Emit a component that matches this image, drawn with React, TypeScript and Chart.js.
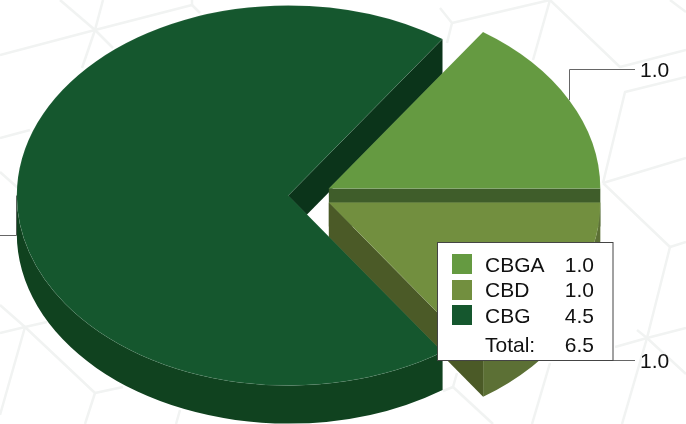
import React, { useEffect, useRef } from "react";
import { Chart, registerables } from "chart.js";

Chart.register(...registerables);

const categories = ["CBGA", "CBD", "CBG"];
const seriesValues = [1.0, 1.0, 4.5];
const topColors = ["#659a41", "#728f3f", "#15572e"];
const edgeWallColors = ["#3f5d2a", "#4b5a27", "#0b341a"];
const rimWallColors = ["#4f7a33", "#5c7035", "#10421f"];

const WIDTH = 686;
const HEIGHT = 424;
const SQUASH = 0.7;
const DEPTH = 38;
const EXPLODE = 21.5;
const FONT = '21px "Liberation Sans", Arial, sans-serif';
const TEXT = "#111111";
const LEADER = "#666666";

const backgroundPaths: number[][][] = [
  [[60, 0], [95, 30], [113, 48]],
  [[103, 0], [95, 30], [82, 68]],
  [[0, 55], [95, 30], [192, 5], [192, 0]],
  [[192, 5], [200, 13]],
  [[0, 138], [30, 130]],
  [[0, 172], [18, 188]],
  [[0, 305], [25, 327], [95, 393], [123, 387]],
  [[25, 327], [0, 333]],
  [[25, 327], [0, 415]],
  [[25, 327], [47, 322]],
  [[95, 393], [85, 424]],
  [[180, 410], [176, 424]],
  [[440, 8], [452, 23], [447, 43]],
  [[452, 23], [550, 0], [533, 60]],
  [[550, 0], [620, 67], [686, 50]],
  [[670, 0], [686, 12]],
  [[686, 77], [625, 92], [603, 183]],
  [[603, 183], [686, 158]],
  [[603, 183], [670, 247], [686, 242]],
  [[670, 247], [647, 338], [686, 374]],
  [[647, 338], [615, 347]],
  [[647, 338], [637, 330]],
  [[647, 338], [686, 328]],
  [[647, 338], [622, 424]],
  [[550, 363], [532, 424]],
  [[443, 391], [453, 387], [493, 424]],
  [[453, 387], [457, 373]],
];

const pie3d = {
  id: "pie3d",
  beforeDraw(chart: any) {
    const ctx = chart.ctx;
    ctx.save();
    ctx.fillStyle = "#ffffff";
    ctx.fillRect(0, 0, WIDTH, HEIGHT);
    ctx.strokeStyle = "#f1f3f2";
    ctx.lineWidth = 2.5;
    ctx.lineJoin = "round";
    for (const path of backgroundPaths) {
      ctx.beginPath();
      path.forEach(([x, y], i) => (i ? ctx.lineTo(x, y) : ctx.moveTo(x, y)));
      ctx.stroke();
    }
    ctx.restore();
  },
  beforeDatasetDraw(chart: any) {
    const ctx = chart.ctx;
    const arcs: any[] = chart.getDatasetMeta(0).data;

    const centre = (a: any) => {
      const mid = (a.startAngle + a.endAngle) / 2;
      return {
        mid,
        x: a.x + Math.cos(mid) * EXPLODE,
        y: a.y + Math.sin(mid) * EXPLODE * SQUASH,
        r: a.outerRadius,
      };
    };

    const edgeWall = (a: any, i: number) => {
      const c = centre(a);
      const t = Math.cos(a.endAngle) > 0 ? a.endAngle : a.startAngle;
      const px = c.x + c.r * Math.cos(t);
      const py = c.y + c.r * SQUASH * Math.sin(t);
      ctx.fillStyle = edgeWallColors[i];
      ctx.beginPath();
      ctx.moveTo(c.x, c.y);
      ctx.lineTo(px, py);
      ctx.lineTo(px, py + DEPTH);
      ctx.lineTo(c.x, c.y + DEPTH);
      ctx.closePath();
      ctx.fill();
    };

    const rimWall = (a: any, i: number) => {
      const c = centre(a);
      const ry = c.r * SQUASH;
      for (const base of [-2 * Math.PI, 0, 2 * Math.PI]) {
        const a0 = Math.max(a.startAngle, base);
        const a1 = Math.min(a.endAngle, base + Math.PI);
        if (a1 <= a0) continue;
        ctx.fillStyle = rimWallColors[i];
        ctx.beginPath();
        ctx.ellipse(c.x, c.y, c.r, ry, 0, a0, a1);
        ctx.ellipse(c.x, c.y + DEPTH, c.r, ry, 0, a1, a0, true);
        ctx.closePath();
        ctx.fill();
      }
    };

    const top = (a: any) => {
      const c = centre(a);
      ctx.save();
      ctx.translate(c.x, c.y);
      ctx.scale(1, SQUASH);
      ctx.translate(-a.x, -a.y);
      a.draw(ctx);
      ctx.restore();
    };

    // Large slice's cut face lies behind the two exploded slices; its rim and top lie in front.
    edgeWall(arcs[2], 2);
    rimWall(arcs[0], 0);
    edgeWall(arcs[0], 0);
    top(arcs[0]);
    rimWall(arcs[1], 1);
    edgeWall(arcs[1], 1);
    top(arcs[1]);
    rimWall(arcs[2], 2);
    top(arcs[2]);
    return false;
  },
  beforeDatasetsDraw(chart: any) {
    // Leader lines start on each slice's rim and sit beneath the pie.
    const ctx = chart.ctx;
    const arcs: any[] = chart.getDatasetMeta(0).data;
    const rim = (a: any) => {
      const mid = (a.startAngle + a.endAngle) / 2;
      return {
        x: a.x + Math.cos(mid) * (EXPLODE + a.outerRadius),
        y: a.y + Math.sin(mid) * (EXPLODE + a.outerRadius) * SQUASH,
      };
    };
    const p0 = rim(arcs[0]);
    const p1 = rim(arcs[1]);
    const p2 = rim(arcs[2]);
    const lines = [
      [[Math.floor(p0.x) + 0.5, p0.y], [Math.floor(p0.x) + 0.5, 69.5], [635, 69.5]],
      [[Math.floor(p1.x) + 0.5, p1.y], [Math.floor(p1.x) + 0.5, 360.5], [635, 360.5]],
      [[Math.floor(p2.x) + 0.5, p2.y], [Math.floor(p2.x) + 0.5, 235.5], [0, 235.5]],
    ];
    ctx.save();
    ctx.strokeStyle = LEADER;
    ctx.lineWidth = 1;
    for (const l of lines) {
      ctx.beginPath();
      l.forEach(([x, y], i) => (i ? ctx.lineTo(x, y) : ctx.moveTo(x, y)));
      ctx.stroke();
    }
    ctx.restore();
  },
  afterDraw(chart: any) {
    const ctx = chart.ctx;
    ctx.save();
    ctx.font = FONT;
    ctx.fillStyle = TEXT;
    ctx.textBaseline = "alphabetic";
    ctx.textAlign = "left";
    ctx.fillText(seriesValues[0].toFixed(1), 640, 77);
    ctx.fillText(seriesValues[1].toFixed(1), 640, 368);

    // Legend box
    ctx.fillStyle = "#ffffff";
    ctx.fillRect(438, 243, 175, 117);
    ctx.strokeStyle = "#444444";
    ctx.lineWidth = 1;
    ctx.strokeRect(437.5, 242.5, 175.5, 118);

    const swatchTops = [254, 280, 305];
    const baselines = [272, 297, 323];
    categories.forEach((name, i) => {
      ctx.fillStyle = topColors[i];
      ctx.fillRect(452, swatchTops[i], 20, 20);
      ctx.fillStyle = TEXT;
      ctx.textAlign = "left";
      ctx.fillText(name, 485, baselines[i]);
      ctx.textAlign = "right";
      ctx.fillText(seriesValues[i].toFixed(1), 594, baselines[i]);
    });
    const total = seriesValues.reduce((s, v) => s + v, 0);
    ctx.textAlign = "left";
    ctx.fillText("Total:", 485, 352);
    ctx.textAlign = "right";
    ctx.fillText(total.toFixed(1), 594, 352);
    ctx.restore();
  },
};

export default function App() {
  const ref = useRef<HTMLCanvasElement>(null);
  useEffect(() => {
    const chart = new Chart(ref.current!, {
      type: "pie",
      data: {
        labels: categories,
        datasets: [
          {
            data: seriesValues,
            backgroundColor: topColors,
            borderWidth: 1,
            borderColor: "rgba(255,255,255,0.08)",
          },
        ],
      },
      options: {
        animation: false,
        responsive: false,
        rotation: 34.6,
        radius: 271.5,
        layout: { padding: { left: 0, top: 0, right: 66.4, bottom: 33 } },
        plugins: { legend: { display: false }, tooltip: { enabled: false } },
      },
      plugins: [pie3d],
    } as any);
    return () => chart.destroy();
  }, []);
  return (
    <div style={{ position: "absolute", left: 0, top: 0, width: WIDTH, height: HEIGHT, overflow: "hidden" }}>
      <canvas ref={ref} width={WIDTH} height={HEIGHT} style={{ display: "block" }} />
    </div>
  );
}
